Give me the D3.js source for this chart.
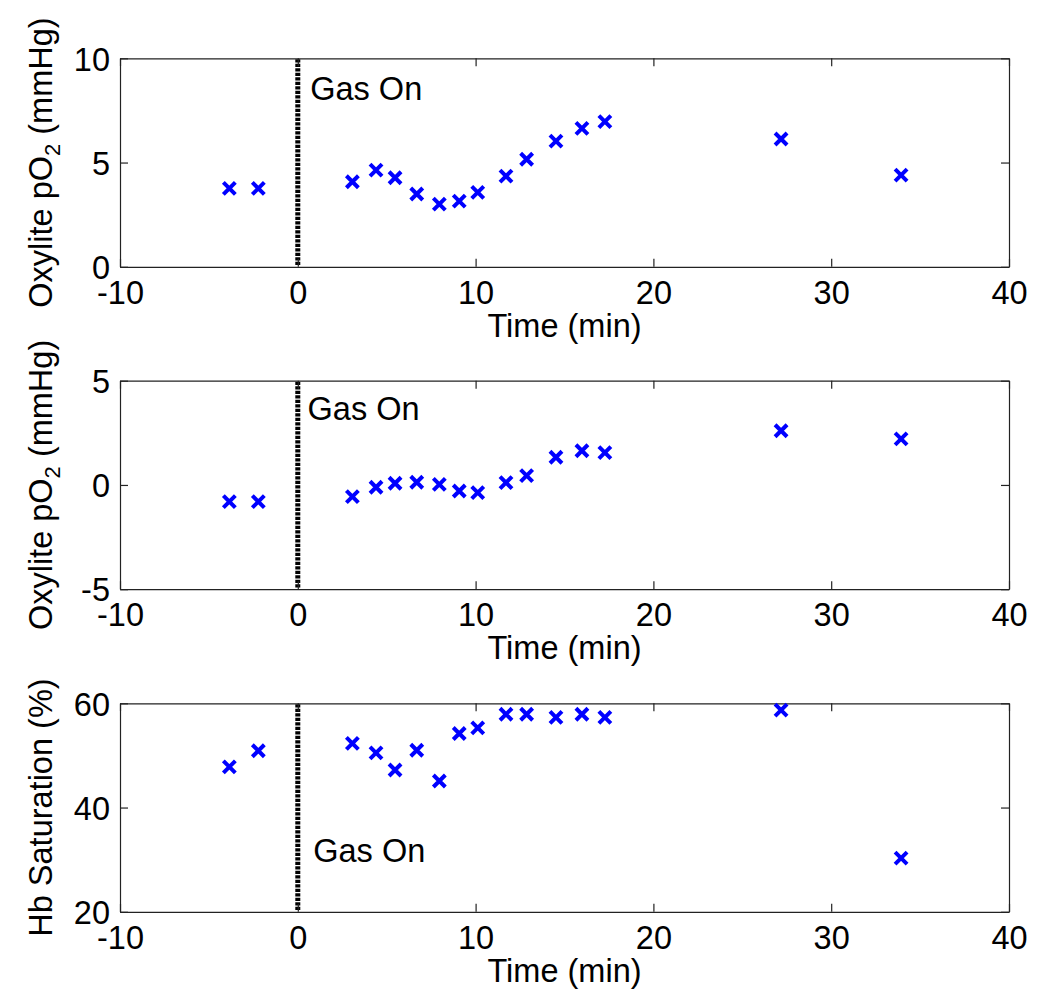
<!DOCTYPE html>
<html>
<head>
<meta charset="utf-8">
<script src="https://cdn.jsdelivr.net/npm/d3@7"></script>
<style>
  html, body { margin: 0; padding: 0; background: #fff; }
  svg { display: block; font-family: "Liberation Sans", Arial, sans-serif; }
</style>
</head>
<body>
<svg id="chart" width="1050" height="1002"></svg>
<script>
// ---- Data ----
const timeMin = [-3.85, -2.22, 3.07, 4.40, 5.47, 6.69, 7.96, 9.08, 10.12, 11.71, 12.87, 14.52, 15.98, 17.27, 27.18, 33.93];
const oxylite1 = [3.76, 3.76, 4.08, 4.64, 4.27, 3.49, 3.01, 3.15, 3.57, 4.35, 5.16, 6.03, 6.64, 6.96, 6.13, 4.40];
const oxylite2 = [-0.80, -0.80, -0.56, -0.11, 0.08, 0.13, 0.03, -0.29, -0.37, 0.11, 0.45, 1.33, 1.64, 1.55, 2.60, 2.21];
const hbSat = [47.8, 50.9, 52.3, 50.5, 47.2, 51.0, 45.1, 54.2, 55.3, 57.9, 57.9, 57.3, 57.9, 57.3, 58.7, 30.3];

const xDomain = [-10, 40];
const xTicks = [-10, 0, 10, 20, 30, 40];
const yDomains = [[0, 10], [-5, 5], [20, 60]];
const yTicks = [[0, 5, 10], [-5, 0, 5], [20, 40, 60]];
const yLabels = ["Oxylite pO|2| (mmHg)", "Oxylite pO|2| (mmHg)", "Hb Saturation (%)"];
const xLabel = "Time (min)";
const gasOnTime = 0;
const gasOnText = "Gas On";
const gasOnPos = [[0.7, 8.0], [0.55, 3.12], [0.87, 29.5]];
const seriesList = [oxylite1, oxylite2, hbSat];

// ---- Layout ----
const svg = d3.select("#chart");
const left = 120, right = 1009;
const tops = [58.3, 380.7, 703.3];
const ph = 208.5;
const fs = 32.5;
const tickLen = 8;
const fmt = d => String(d); // plain hyphen minus like the original

const x = d3.scaleLinear().domain(xDomain).range([left, right]);

seriesList.forEach((vals, i) => {
  const top = tops[i], bottom = top + ph;
  const y = d3.scaleLinear().domain(yDomains[i]).range([bottom, top]);
  const g = svg.append("g");

  // Gas On dashed line
  g.append("line")
    .attr("x1", x(gasOnTime)).attr("x2", x(gasOnTime))
    .attr("y1", top + 1).attr("y2", bottom - 1)
    .attr("stroke", "#000").attr("stroke-width", 5)
    .attr("stroke-dasharray", "3.2,1.3");

  // Axes
  const ax = (sel) => sel.selectAll("path.domain").attr("stroke", "#222").attr("stroke-width", 1.2);
  const styleTicks = (sel) => {
    sel.selectAll(".tick line").attr("stroke", "#222").attr("stroke-width", 1.2);
    sel.selectAll(".tick text").attr("fill", "#000").style("font-size", fs + "px")
      .style("font-family", "'Liberation Sans', Arial, sans-serif");
  };

  const bAxis = g.append("g").attr("transform", `translate(0,${bottom})`)
    .call(d3.axisBottom(x).tickValues(xTicks).tickSize(-tickLen).tickSizeOuter(0).tickPadding(14).tickFormat(fmt));
  ax(bAxis); styleTicks(bAxis);
  bAxis.selectAll(".tick text").attr("dy", "0.7em");

  const tAxis = g.append("g").attr("transform", `translate(0,${top})`)
    .call(d3.axisTop(x).tickValues(xTicks).tickSize(-tickLen).tickSizeOuter(0).tickFormat(""));
  ax(tAxis); styleTicks(tAxis);

  const lAxis = g.append("g").attr("transform", `translate(${left},0)`)
    .call(d3.axisLeft(y).tickValues(yTicks[i]).tickSize(-tickLen).tickSizeOuter(0).tickPadding(10).tickFormat(fmt));
  ax(lAxis); styleTicks(lAxis);
  lAxis.selectAll(".tick text").attr("dy", "0.36em");

  const rAxis = g.append("g").attr("transform", `translate(${right},0)`)
    .call(d3.axisRight(y).tickValues(yTicks[i]).tickSize(-tickLen).tickSizeOuter(0).tickFormat(""));
  ax(rAxis); styleTicks(rAxis);

  // x label
  g.append("text")
    .attr("x", (left + right) / 2).attr("y", bottom + 70)
    .attr("text-anchor", "middle").style("font-size", fs + "px").attr("fill", "#000")
    .text(xLabel);

  // y label (with subscript)
  const yl = g.append("text")
    .attr("transform", `translate(52,${(top + bottom) / 2}) rotate(-90)`)
    .attr("text-anchor", "middle").style("font-size", fs + "px").attr("fill", "#000");
  const parts = yLabels[i].split("|");
  parts.forEach((p, k) => {
    if (k % 2 === 1) {
      yl.append("tspan").attr("dy", 8).style("font-size", "22px").text(p);
    } else {
      const t = yl.append("tspan").text(p);
      if (k > 0) t.attr("dy", -8);
    }
  });

  // Gas On text
  g.append("text")
    .attr("x", x(gasOnPos[i][0])).attr("y", y(gasOnPos[i][1]))
    .style("font-size", fs + "px").attr("fill", "#000")
    .text(gasOnText);

  // markers
  const s = 6;
  g.selectAll("path.mk").data(timeMin.map((t, k) => [t, vals[k]]))
    .enter().append("path").attr("class", "mk")
    .attr("transform", d => `translate(${x(d[0])},${y(d[1])})`)
    .attr("d", `M${-s},${-s}L${s},${s}M${-s},${s}L${s},${-s}`)
    .attr("stroke", "#0000ff").attr("stroke-width", 4).attr("fill", "none");
});
</script>
</body>
</html>
